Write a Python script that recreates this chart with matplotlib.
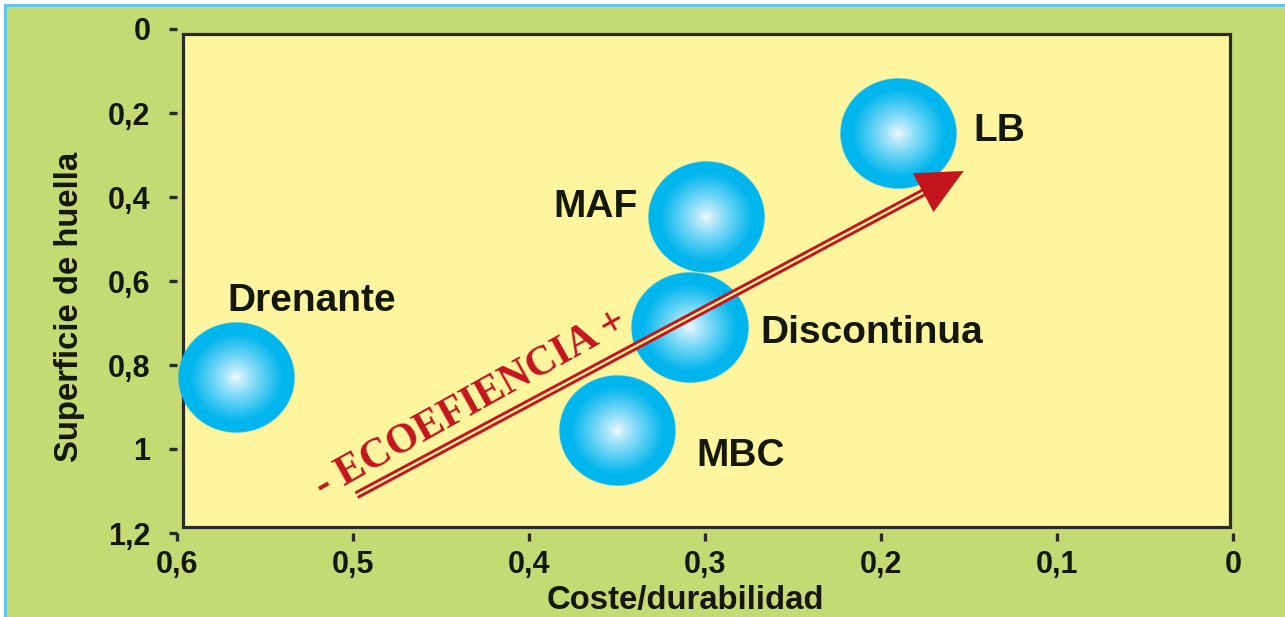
import numpy as np
import matplotlib
matplotlib.use("Agg")
import matplotlib.pyplot as plt
from matplotlib.patches import Rectangle, Polygon
from matplotlib.transforms import IdentityTransform

# --- data -------------------------------------------------------------
names = ["Drenante", "MAF", "Discontinua", "MBC", "LB"]
coste = [0.566, 0.299, 0.309, 0.350, 0.190]        # Coste/durabilidad
superficie = [0.829, 0.448, 0.710, 0.957, 0.249]   # Superficie de huella

x_ticks = [0.6, 0.5, 0.4, 0.3, 0.2, 0.1, 0.0]
x_ticklabels = ["0,6", "0,5", "0,4", "0,3", "0,2", "0,1", "0"]
y_ticks = [0.0, 0.2, 0.4, 0.6, 0.8, 1.0, 1.2]
y_ticklabels = ["0", "0,2", "0,4", "0,6", "0,8", "1", "1,2"]

# label offsets (points) and alignment per bubble
label_style = {
    "Drenante":    dict(dx=-7, dy=55, ha="left"),
    "MAF":         dict(dx=-50, dy=7, ha="right"),
    "Discontinua": dict(dx=51, dy=-4, ha="left"),
    "MBC":         dict(dx=57, dy=-18, ha="left"),
    "LB":          dict(dx=54, dy=2, ha="left"),
}

arrow_start = (0.498, 1.110)
arrow_tip = (0.153, 0.338)
eco_pos = (0.433, 0.893)

# --- style ------------------------------------------------------------
W, H, DPI = 1285, 617, 100
GREEN = "#c6da74"
YELLOW = "#fef59e"
CYAN = np.array([0x00, 0xb6, 0xee]) / 255.0
RED = "#c4141e"
DARK = "#14180a"

plt.rcParams["font.family"] = ["Liberation Sans", "DejaVu Sans"]
fig = plt.figure(figsize=(W / DPI, H / DPI), dpi=DPI, facecolor="white")

# outer panel with a light blue border on top/left
fig.patches.append(Rectangle((5, 0), W, H - 5, transform=IdentityTransform(),
                             facecolor=GREEN, edgecolor="none", zorder=-3))
fig.patches.append(Rectangle((4, H - 7), W, 3, transform=IdentityTransform(),
                             facecolor="#5ac8f2", edgecolor="none", zorder=-2))
fig.patches.append(Rectangle((4, 0), 3, H - 4, transform=IdentityTransform(),
                             facecolor="#5ac8f2", edgecolor="none", zorder=-2))

ax_l, ax_r, ax_t, ax_b = 177, 1233, 29, 533
ax = fig.add_axes([ax_l / W, 1 - ax_b / H, (ax_r - ax_l) / W, (ax_b - ax_t) / H])
ax.set_facecolor("none")
for s in ax.spines.values():
    s.set_visible(False)

ax.set_xlim(0.6, 0.0)
ax.set_ylim(1.2, 0.0)

# plot frame, slightly inset from the tick extent
fx0 = (183 - ax_l) / (ax_r - ax_l)
fx1 = (1230 - ax_l) / (ax_r - ax_l)
fy0 = (ax_b - 527) / (ax_b - ax_t)
fy1 = (ax_b - 34) / (ax_b - ax_t)
ax.add_patch(Rectangle((fx0, fy0), fx1 - fx0, fy1 - fy0, transform=ax.transAxes,
                       facecolor=YELLOW, edgecolor="#2a2a26", linewidth=2.3,
                       zorder=0.5, clip_on=False))

ax.set_xticks(x_ticks)
ax.set_xticklabels(x_ticklabels)
ax.set_yticks(y_ticks)
ax.set_yticklabels(y_ticklabels)
ax.tick_params(axis="both", direction="out", length=6, width=2.4,
               color="#2a2a26", labelsize=22, labelcolor=DARK)
ax.tick_params(axis="y", pad=13)
ax.tick_params(axis="x", pad=6)
for lab in ax.get_xticklabels() + ax.get_yticklabels():
    lab.set_fontweight("bold")

# radial-gradient sphere image
n = 301
g = np.linspace(-1, 1, n)
gx, gy = np.meshgrid(g, g)
r = np.sqrt(gx ** 2 + gy ** 2)
t = np.clip(r / 0.8, 0, 1) ** 0.85
rgba = np.zeros((n, n, 4))
for k in range(3):
    rgba[..., k] = (1 - t) * np.array([0.95, 0.98, 1.0])[k] + t * CYAN[k]
rgba[..., 3] = np.clip((1 - r) * n / 2.0, 0, 1)

hw = 58.5 / (ax_r - ax_l) * 0.6     # half width in data units
hh = 55.5 / (ax_b - ax_t) * 1.2     # half height in data units
for name, xv, yv in zip(names, coste, superficie):
    ax.imshow(rgba, extent=(xv - hw, xv + hw, yv + hh, yv - hh),
              aspect="auto", interpolation="bilinear", zorder=3, clip_on=False)
    st = label_style[name]
    ax.annotate(name, (xv, yv), xytext=(st["dx"], st["dy"]),
                textcoords="offset points", ha=st["ha"], va="center",
                fontsize=28, fontweight="bold", color=DARK, zorder=5)

ax.set_xlim(0.6, 0.0)
ax.set_ylim(1.2, 0.0)

# efficiency arrow: double red shaft with a solid head
fig.canvas.draw()
p0 = ax.transData.transform(arrow_start)
p1 = ax.transData.transform(arrow_tip)
d = p1 - p0
u = d / np.hypot(*d)
nrm = np.array([-u[1], u[0]])
head_len, head_w = 46, 44
base = p1 - u * head_len
shaft_end = base + u * 2
ax.plot([p0[0], shaft_end[0]], [p0[1], shaft_end[1]], transform=IdentityTransform(),
        color=RED, lw=5.8, solid_capstyle="butt", zorder=4, clip_on=False)
ax.plot([p0[0] - u[0], shaft_end[0]], [p0[1] - u[1], shaft_end[1]],
        transform=IdentityTransform(), color=YELLOW, lw=1.6,
        solid_capstyle="butt", zorder=4.1, clip_on=False)
head = Polygon([p1, base + nrm * head_w / 2, base - nrm * head_w / 2],
               closed=True, transform=IdentityTransform(), facecolor=RED,
               edgecolor="none", zorder=4.2, clip_on=False)
ax.add_patch(head)

angle = np.degrees(np.arctan2(d[1], d[0]))
ax.text(eco_pos[0], eco_pos[1], "- ECOEFIENCIA +", rotation=angle + 1,
        rotation_mode="anchor", ha="center", va="center", color=RED,
        fontsize=30, fontweight="bold",
        family=["Liberation Serif", "DejaVu Serif"], zorder=4.5)

# axis titles
fig.text(685 / W, 1 - 600 / H, "Coste/durabilidad", ha="center", va="center",
         fontsize=23.7, fontweight="bold", color=DARK)
fig.text(70 / W, 1 - 307 / H, "Superficie de huella", ha="center", va="center",
         rotation=90, fontsize=23.7, fontweight="bold", color=DARK)

fig.savefig("out.png", dpi=DPI, facecolor=fig.get_facecolor())
